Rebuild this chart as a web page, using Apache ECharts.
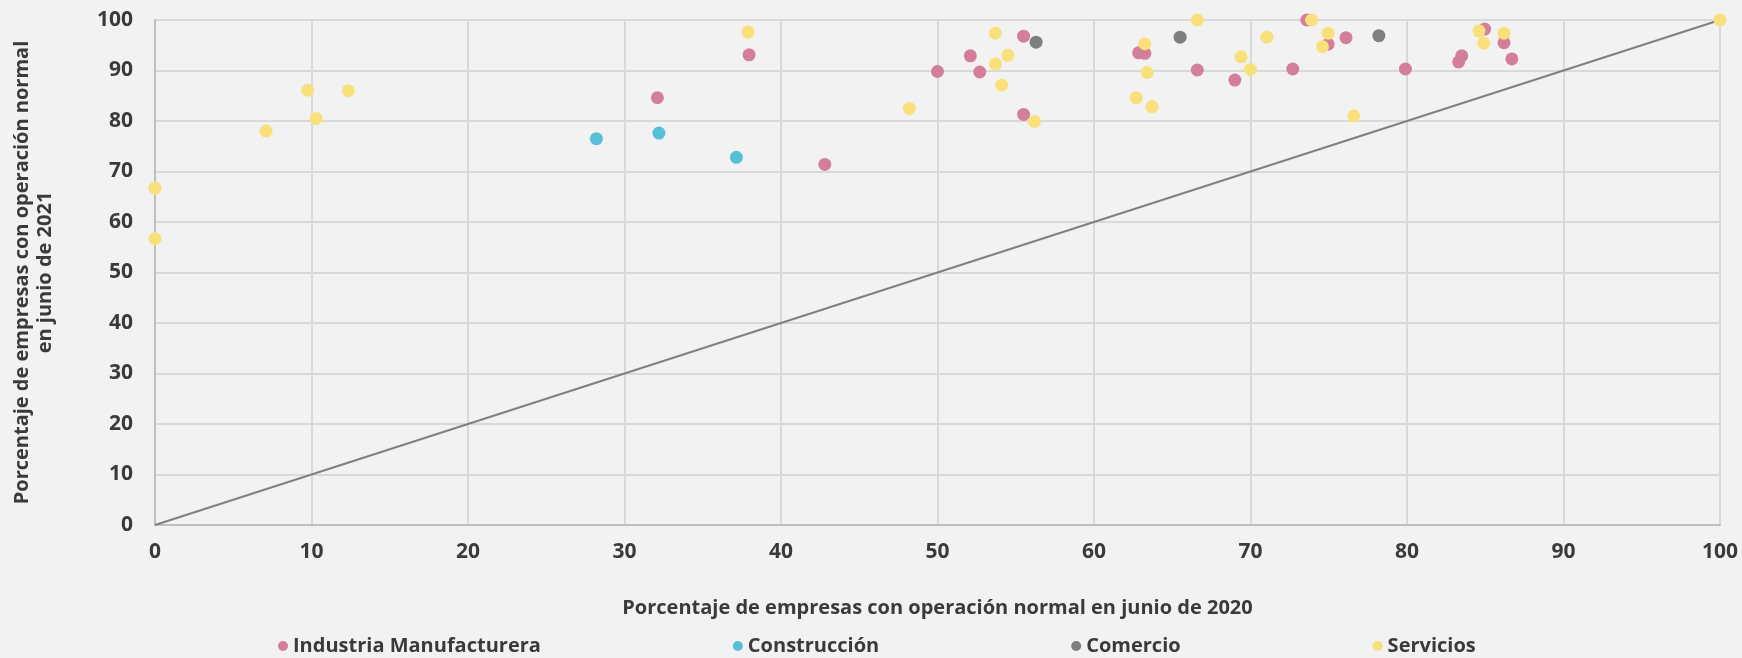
<!DOCTYPE html>
<html>
<head>
<meta charset="utf-8">
<script src="https://cdn.jsdelivr.net/npm/echarts@6/dist/echarts.min.js"></script>
<style>
  html, body { margin: 0; padding: 0; background: #f2f2f2; }
  #chart { width: 1742px; height: 658px; }
</style>
</head>
<body>
<div id="chart"></div>
<script>
// [% empresas con operación normal jun 2020, % jun 2021]
const industria = [
    [32.1, 84.6], [37.96, 93.1], [42.8, 71.4], [50.0, 89.8], [52.1, 92.9],
    [52.7, 89.7], [55.5, 96.8], [55.5, 81.3], [62.85, 93.5], [63.25, 93.4],
    [66.6, 90.1], [69.0, 88.1], [72.7, 90.3], [73.6, 100], [74.96, 95.2],
    [76.1, 96.5], [79.9, 90.3], [83.3, 91.7], [83.5, 92.9], [84.96, 98.2],
    [86.2, 95.5], [86.7, 92.3]
];
const construccion = [[28.2, 76.5], [32.2, 77.6], [37.15, 72.8]];
const comercio = [[56.3, 95.6], [65.5, 96.6], [78.2, 96.9]];
const servicios = [
    [0, 66.7], [0, 56.7], [7.1, 78.0], [9.76, 86.1], [10.3, 80.5], [12.35, 86.0],
    [37.9, 97.6], [48.2, 82.5], [53.7, 97.4], [54.5, 93.0], [53.7, 91.3],
    [54.1, 87.1], [56.2, 79.9], [62.7, 84.6], [63.25, 95.3], [63.4, 89.6],
    [63.7, 82.8], [66.6, 100], [69.4, 92.7], [70.0, 90.2], [71.05, 96.6],
    [73.9, 100], [74.96, 97.4], [74.6, 94.7], [76.6, 81.0], [84.6, 97.8],
    [84.9, 95.4], [86.2, 97.4], [100, 100]
];
const diagonal = [[0, 0], [100, 100]];

const seriesNames = ['Industria Manufacturera', 'Construcción', 'Comercio', 'Servicios'];
const colors = ['#d47f99', '#55c0d8', '#7f7f7f', '#f9e07a'];

const font = '"Open Sans", "Noto Sans", sans-serif';
const txt = '#3a3a3a';

let myChart = echarts.init(document.getElementById('chart'));

function scatter(name, data, color) {
    return {
        name: name,
        type: 'scatter',
        data: data,
        symbolSize: 13,
        itemStyle: { color: color, opacity: 1 },
        z: 3
    };
}

let option = {
    backgroundColor: '#f2f2f2',
    animation: false,
    grid: { left: 155, right: 22, top: 20, bottom: 133, outerBoundsMode: 'none' },
    legend: {
        data: seriesNames,
        left: 273,
        top: 631,
        icon: 'circle',
        itemWidth: 10,
        itemHeight: 10,
        itemGap: 192,
        textStyle: { color: txt, fontFamily: font, fontWeight: 'bold', fontSize: 20 }
    },
    xAxis: {
        type: 'value',
        min: 0,
        max: 100,
        interval: 10,
        name: 'Porcentaje de empresas con operación normal en junio de 2020',
        nameLocation: 'middle',
        nameGap: 73,
        nameTextStyle: { color: txt, fontFamily: font, fontWeight: 'bold', fontSize: 20 },
        axisLine: { lineStyle: { color: '#bfbfbf', width: 2 } },
        axisTick: { show: false },
        axisLabel: { color: txt, fontFamily: font, fontWeight: 'bold', fontSize: 21, margin: 17 },
        splitLine: { lineStyle: { color: '#d9d9d9', width: 2 } }
    },
    yAxis: {
        type: 'value',
        min: 0,
        max: 100,
        interval: 10,
        name: 'Porcentaje de empresas con operación normal\nen junio de 2021',
        nameLocation: 'middle',
        nameGap: 98,
        nameTextStyle: { color: txt, fontFamily: font, fontWeight: 'bold', fontSize: 20, lineHeight: 23 },
        axisLine: { show: true, lineStyle: { color: '#bfbfbf', width: 2 } },
        axisTick: { show: false },
        axisLabel: { color: txt, fontFamily: font, fontWeight: 'bold', fontSize: 21, margin: 22 },
        splitLine: { lineStyle: { color: '#d9d9d9', width: 2 } }
    },
    series: [
        {
            type: 'line',
            data: diagonal,
            symbol: 'none',
            silent: true,
            lineStyle: { color: '#808080', width: 2 },
            z: 2
        },
        scatter(seriesNames[0], industria, colors[0]),
        scatter(seriesNames[1], construccion, colors[1]),
        scatter(seriesNames[2], comercio, colors[2]),
        scatter(seriesNames[3], servicios, colors[3])
    ]
};
option && myChart.setOption(option);
</script>
</body>
</html>
